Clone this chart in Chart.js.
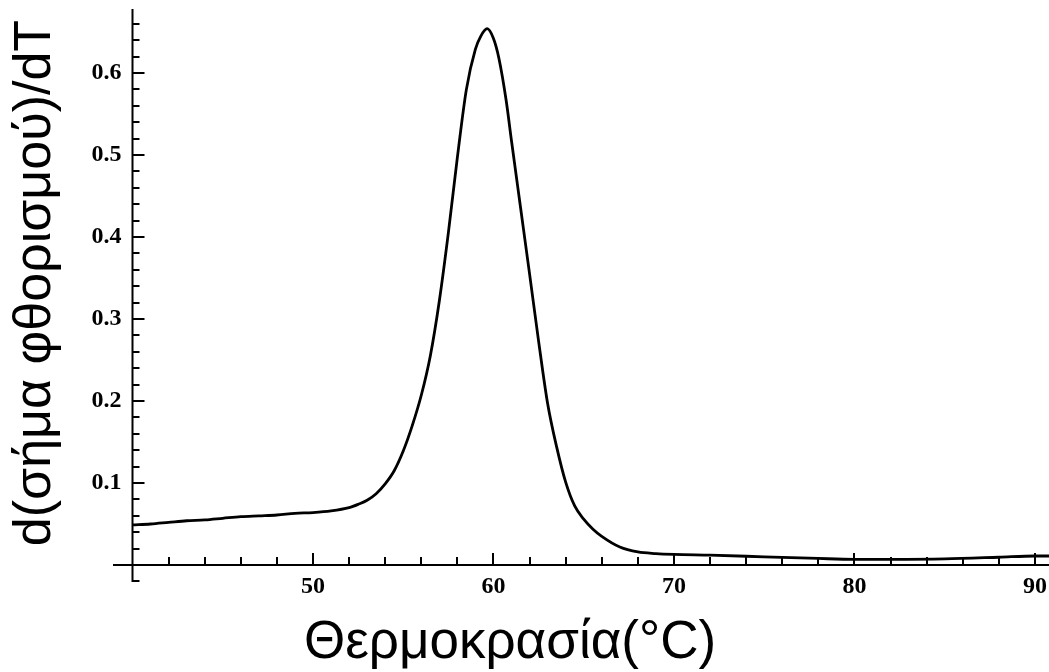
<!DOCTYPE html>
<html>
<head>
<meta charset="utf-8">
<script src="https://cdn.jsdelivr.net/npm/chart.js@4/dist/chart.umd.min.js"></script>
<style>
  html, body { margin: 0; padding: 0; background: #fff; }
  #wrap { position: relative; width: 1049px; height: 672px; }
</style>
</head>
<body>
<div id="wrap"><canvas id="meltCurve"></canvas></div>
<script>
// Melting curve: derivative of fluorescence vs temperature
const temps = [40, 41, 42, 43, 44, 45, 46, 47, 48, 49, 50, 51, 52, 52.5, 53, 53.5, 54, 54.5, 55, 55.5,
  56, 56.5, 57, 57.5, 58, 58.5, 59, 59.3, 59.65, 60, 60.3, 60.7, 61, 61.5, 62, 62.5, 63, 63.5,
  64, 64.5, 65, 65.5, 66, 67, 68, 69, 70, 72, 75, 78, 80, 82, 85, 88, 90, 90.8];
const dFdT = [0.049, 0.050, 0.052, 0.054, 0.055, 0.057, 0.059, 0.060, 0.061, 0.063, 0.064, 0.066, 0.070, 0.074, 0.079, 0.087, 0.099, 0.115, 0.139, 0.170,
  0.207, 0.255, 0.322, 0.405, 0.497, 0.580, 0.629, 0.645, 0.654, 0.642, 0.618, 0.567, 0.517, 0.436, 0.355, 0.273, 0.197, 0.144,
  0.101, 0.072, 0.056, 0.044, 0.035, 0.022, 0.016, 0.014, 0.013, 0.012, 0.010, 0.008, 0.007, 0.007, 0.0075, 0.0095, 0.011, 0.011];

const xTickLabels = [50, 60, 70, 80, 90];
const yTickLabels = [0.1, 0.2, 0.3, 0.4, 0.5, 0.6];

const xTitle = "Θερμοκρασία(°C)";
const yTitle = "d(σήμα φθορισμού)/dT";

// axes cross at (40, 0); the x axis line starts a little left of the y axis
const xCross = 40;
const yCross = 0;
const xAxisStart = 38.92;

// hand-drawn axes with inward ticks (major + minor), Mathematica style
const crossAxes = {
  id: "crossAxes",
  beforeDatasetsDraw(chart) {
    const { ctx, chartArea, scales: { x, y } } = chart;
    const x0 = x.getPixelForValue(xCross);
    const y0 = y.getPixelForValue(yCross);
    ctx.save();
    ctx.strokeStyle = "#000";
    ctx.lineWidth = 2;
    ctx.beginPath();
    ctx.moveTo(x.getPixelForValue(xAxisStart), y0);
    ctx.lineTo(chartArea.right, y0);
    ctx.moveTo(x0, chartArea.top);
    ctx.lineTo(x0, chartArea.bottom);
    ctx.stroke();

    ctx.beginPath();
    for (let t = 42; t <= 90; t += 2) {
      const px = Math.round(x.getPixelForValue(t));
      const len = t % 10 === 0 ? 12 : 8;
      ctx.moveTo(px, y0);
      ctx.lineTo(px, y0 - len);
    }
    for (let i = -1; i <= 33; i++) {
      if (i === 0) continue;
      const py = Math.round(y.getPixelForValue(i * 0.02));
      const len = i % 5 === 0 ? 12 : 7;
      ctx.moveTo(x0, py);
      ctx.lineTo(x0 + len, py);
    }
    ctx.stroke();
    ctx.restore();
  },
  afterDraw(chart) {
    const { ctx } = chart;
    ctx.save();
    ctx.fillStyle = "#000";
    ctx.textAlign = "center";
    ctx.textBaseline = "alphabetic";
    ctx.font = '53px "Liberation Sans", Arial, sans-serif';
    ctx.fillText(xTitle, 510, 658);
    ctx.font = '52px "Liberation Sans", Arial, sans-serif';
    ctx.translate(50, 283);
    ctx.rotate(-Math.PI / 2);
    ctx.fillText(yTitle, 0, 0);
    ctx.restore();
  }
};

const noPad = s => { s.paddingTop = 0; s.paddingBottom = 0; s.paddingLeft = 0; s.paddingRight = 0; };

const tickFont = { family: '"Liberation Serif", "Times New Roman", serif', size: 24, weight: "bold" };

new Chart(document.getElementById("meltCurve"), {
  type: "line",
  data: {
    datasets: [{
      data: temps.map((t, i) => ({ x: t, y: dFdT[i] })),
      borderColor: "#000",
      borderWidth: 2.8,
      pointRadius: 0,
      fill: false,
      cubicInterpolationMode: "monotone"
    }]
  },
  options: {
    responsive: true,
    maintainAspectRatio: false,
    animation: false,
    layout: { padding: { left: 0, right: 0, top: 9, bottom: 90 } },
    plugins: { legend: { display: false }, tooltip: { enabled: false } },
    scales: {
      x: {
        type: "linear",
        min: xCross,
        max: 90.78,
        position: { y: yCross },
        grid: { display: false, drawTicks: false },
        border: { display: false },
        afterBuildTicks: s => { s.ticks = xTickLabels.map(v => ({ value: v })); },
        afterFit: noPad,
        ticks: { color: "#000", font: tickFont, padding: 7, maxRotation: 0, autoSkip: false }
      },
      y: {
        type: "linear",
        min: -0.0207,
        max: 0.678,
        position: "left",
        grid: { display: false, drawTicks: false },
        border: { display: false },
        afterBuildTicks: s => { s.ticks = yTickLabels.map(v => ({ value: v })); },
        afterFit: s => { noPad(s); s.width = 132.5; },
        ticks: { color: "#000", font: tickFont, padding: 11, autoSkip: false,
          callback: v => v.toFixed(1) }
      }
    }
  },
  plugins: [crossAxes]
});
</script>
</body>
</html>
